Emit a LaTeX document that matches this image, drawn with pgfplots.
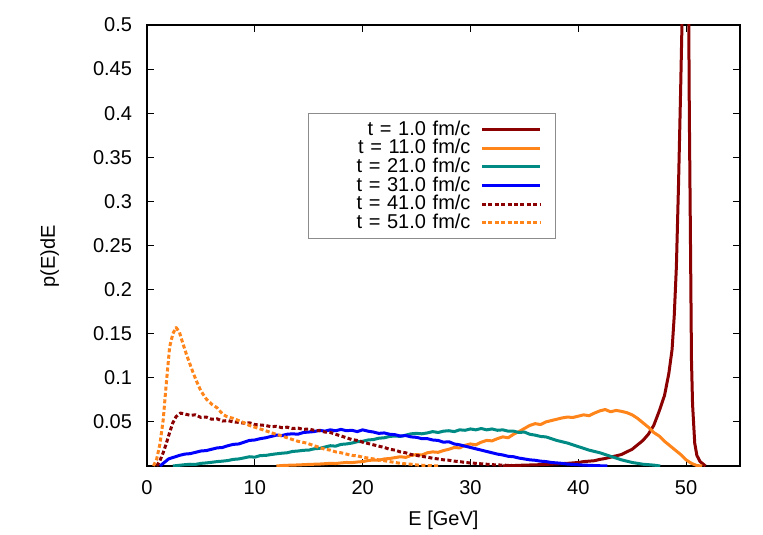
\documentclass[border=0pt]{standalone}
\usepackage{fontspec}
\setmainfont{Liberation Sans}
\usepackage{pgfplots}
\pgfplotsset{compat=1.18}
\definecolor{dred}{HTML}{8B0000}
\definecolor{orng}{HTML}{FF8419}
\definecolor{teal}{HTML}{008A84}
\definecolor{blu}{HTML}{0000FF}

\begin{document}
\begin{tikzpicture}[font=\fontsize{10}{12}\selectfont]
  \path[use as bounding box] (-73.5pt,-34pt) rectangle (308pt,233pt);
  \begin{axis}[
    at={(0pt,0pt)}, anchor=south west,
    width=296.5pt, height=220.5pt, scale only axis,
    xmin=0, xmax=55, ymin=0, ymax=0.5,
    xtick={0,10,20,30,40,50},
    ytick={0.05,0.1,0.15,0.2,0.25,0.3,0.35,0.4,0.45,0.5},
    yticklabel style={/pgf/number format/fixed,/pgf/number format/precision=2,xshift=-4pt},
    xticklabel style={yshift=-3.5pt},
    /pgf/number format/assume math mode=true,
    tick align=inside, major tick length=3.5pt,
    every tick/.style={black,line width=0.5pt},
    axis line style={line width=0.6pt},
    xlabel={E [GeV]}, ylabel={p(E)dE},
    xlabel style={at={(axis description cs:0.5,-0.1225)},anchor=center},
    ylabel style={at={(axis description cs:-0.164,0.476)},anchor=center},
    legend plot pos=right, legend cell align=right,
    legend style={at={(axis description cs:0.2715,0.800)},anchor=north west,
      draw=black!45, line width=0.5pt, inner xsep=7pt, inner ysep=1.5pt, row sep=-3.4pt,
      font=\fontsize{10}{12}\selectfont,
      nodes={text width=72pt, align=right},
      /tikz/every odd column/.append style={column sep=3pt}},
    legend image code/.code={\draw[#1] (0pt,0pt) -- (29pt,0pt);},
    every axis plot/.append style={line width=1.5pt, line join=round},
  ]
  % t = 1.0
  \addplot[dred] coordinates {
    (33,0) (34,0.0005) (35,0.001) (36,0.0013) (37,0.0018) (38,0.0025) (39,0.003)
    (39.5,0.0035) (40,0.004) (40.5,0.005) (41,0.0055) (41.5,0.006) (42,0.0075)
    (42.5,0.0085) (43,0.010) (43.5,0.0115) (44,0.013) (44.5,0.016) (45,0.019)
    (45.5,0.024) (46,0.029) (46.5,0.036) (47,0.046) (47.5,0.062) (48,0.08)
    (48.4,0.105) (48.7,0.132) (48.9,0.17) (49.1,0.226) (49.3,0.32) (49.5,0.43)
    (49.7,0.55) (49.9,0.85) (50.05,0.9) (50.2,0.6) (50.3,0.40) (50.4,0.264)
    (50.5,0.12) (50.6,0.07) (50.8,0.026) (51,0.012) (51.3,0.005) (51.8,0)};
  % t = 11.0
  \addplot[orng] coordinates {
    (12,0) (12.5,0.0005) (13,0.0008) (13.5,0.001) (14,0.0012) (14.5,0.0015)
    (15,0.0018) (15.5,0.002) (16,0.0022) (16.5,0.0026) (17,0.003) (17.5,0.0028)
    (18,0.0035) (18.5,0.004) (19,0.0038) (19.5,0.0045) (20,0.005) (20.5,0.0062)
    (21,0.0068) (21.5,0.0065) (22,0.008) (22.5,0.0085) (23,0.0095) (23.5,0.0105)
    (24,0.0098) (24.5,0.012) (25,0.013) (25.5,0.0125) (26,0.015) (26.5,0.016)
    (27,0.0155) (27.5,0.0175) (28,0.019) (28.5,0.021) (29,0.0205) (29.5,0.0235)
    (30,0.025) (30.5,0.024) (31,0.027) (31.5,0.029) (32,0.0285) (32.5,0.031)
    (33,0.033) (33.5,0.032) (34,0.036) (34.5,0.039) (35,0.0425) (35.5,0.046)
    (36,0.048) (36.5,0.047) (37,0.050) (37.5,0.0515) (38,0.053) (38.5,0.0545)
    (39,0.0555) (39.5,0.055) (40,0.0565) (40.5,0.058) (41,0.057) (41.5,0.060)
    (42,0.0625) (42.5,0.064) (43,0.0615) (43.5,0.063) (44,0.062) (44.5,0.0605)
    (45,0.058) (45.5,0.054) (46,0.049) (46.5,0.044) (47,0.038) (47.5,0.034)
    (48,0.028) (48.5,0.023) (49,0.018) (49.5,0.013) (50,0.007) (50.5,0.003)
    (51,0.0005) (51.5,0)};
  % t = 21.0
  \addplot[teal] coordinates {
    (2.4,0) (3,0.0008) (3.5,0.0015) (4,0.002) (4.5,0.0018) (5,0.003) (5.5,0.0035)
    (6,0.0042) (6.5,0.005) (7,0.0055) (7.5,0.0062) (8,0.0075) (8.5,0.008)
    (9,0.0092) (9.5,0.0105) (10,0.010) (10.5,0.0118) (11,0.012) (11.5,0.013)
    (12,0.0138) (12.5,0.0145) (13,0.015) (13.5,0.0165) (14,0.017) (14.5,0.0178)
    (15,0.018) (15.5,0.0195) (16,0.020) (16.5,0.0215) (17,0.023) (17.5,0.0225)
    (18,0.0245) (18.5,0.025) (19,0.026) (19.5,0.0275) (20,0.028) (20.5,0.0295)
    (21,0.030) (21.5,0.0315) (22,0.032) (22.5,0.0335) (23,0.034) (23.5,0.0335)
    (24,0.035) (24.5,0.0365) (25,0.037) (25.5,0.0365) (26,0.0375) (26.5,0.039)
    (27,0.038) (27.5,0.0395) (28,0.040) (28.5,0.039) (29,0.041) (29.5,0.0405)
    (30,0.042) (30.5,0.041) (31,0.0425) (31.5,0.041) (32,0.042) (32.5,0.0405)
    (33,0.041) (33.5,0.0395) (34,0.0395) (34.5,0.038) (35,0.0385) (35.5,0.036)
    (36,0.035) (36.5,0.0335) (37,0.033) (37.5,0.031) (38,0.029) (38.5,0.0275)
    (39,0.026) (39.5,0.024) (40,0.022) (40.5,0.020) (41,0.018) (41.5,0.0165)
    (42,0.015) (42.5,0.013) (43,0.011) (43.5,0.009) (44,0.007) (44.5,0.0055)
    (45,0.004) (45.5,0.003) (46,0.002) (46.5,0.0015) (47,0.001) (47.6,0)};
  % t = 31.0
  \addplot[blu] coordinates {
    (1.2,0) (1.6,0.004) (2,0.008) (2.5,0.010) (3,0.012) (3.5,0.0135) (4,0.014)
    (4.5,0.0155) (5,0.017) (5.5,0.0175) (6,0.019) (6.5,0.0205) (7,0.021)
    (7.5,0.023) (8,0.0245) (8.5,0.025) (9,0.027) (9.5,0.029) (10,0.0295)
    (10.5,0.031) (11,0.032) (11.5,0.0335) (12,0.035) (12.5,0.0345) (13,0.036)
    (13.5,0.0365) (14,0.036) (14.5,0.038) (15,0.0385) (15.5,0.039) (16,0.0405)
    (16.5,0.0395) (17,0.041) (17.5,0.040) (18,0.0415) (18.5,0.040) (19,0.0405)
    (19.5,0.039) (20,0.041) (20.5,0.0395) (21,0.0385) (21.5,0.037) (22,0.0375)
    (22.5,0.036) (23,0.0355) (23.5,0.034) (24,0.0345) (24.5,0.033) (25,0.0325)
    (25.5,0.031) (26,0.031) (26.5,0.0295) (27,0.029) (27.5,0.027) (28,0.0275)
    (28.5,0.025) (29,0.024) (29.5,0.0225) (30,0.021) (30.5,0.0195) (31,0.018)
    (31.5,0.0165) (32,0.015) (32.5,0.0135) (33,0.0125) (33.5,0.011) (34,0.0105)
    (34.5,0.009) (35,0.008) (35.5,0.007) (36,0.0065) (36.5,0.0055) (37,0.005)
    (37.5,0.004) (38,0.0035) (38.5,0.003) (39,0.0022) (39.5,0.0018) (40,0.0014)
    (40.5,0.001) (41,0.0008) (41.5,0.0005) (42,0.0003) (42.7,0)};
  % t = 41.0
  \addplot[dred,dash pattern=on 2pt off 1.2pt] coordinates {
    (0.9,0) (1.2,0.006) (1.5,0.015) (1.8,0.026) (2.1,0.038) (2.4,0.049)
    (2.7,0.056) (3.1,0.060) (3.5,0.059) (4,0.0575) (4.5,0.058) (5,0.055)
    (5.5,0.0555) (6,0.053) (6.5,0.0535) (7,0.051) (7.5,0.0515) (8,0.050)
    (8.5,0.0495) (9,0.0485) (9.5,0.049) (10,0.047) (10.5,0.0465) (11,0.046)
    (11.5,0.0445) (12,0.045) (12.5,0.0435) (13,0.044) (13.5,0.0425) (14,0.043)
    (14.5,0.0415) (15,0.042) (15.5,0.0405) (16,0.040) (16.5,0.0385) (17,0.038)
    (17.5,0.036) (18,0.034) (18.5,0.032) (19,0.030) (19.5,0.029) (20,0.027)
    (20.5,0.0255) (21,0.024) (21.5,0.0225) (22,0.021) (22.5,0.019) (23,0.018)
    (23.5,0.016) (24,0.015) (24.5,0.013) (25,0.012) (25.5,0.011) (26,0.010)
    (26.5,0.0088) (27,0.008) (27.5,0.007) (28,0.0065) (28.5,0.0055) (29,0.005)
    (29.5,0.004) (30,0.0035) (30.5,0.003) (31,0.0025) (31.5,0.002) (32,0.0015)
    (33,0.001) (34,0.0005) (35,0)};
  % t = 51.0
  \addplot[orng,dash pattern=on 2pt off 1.2pt] coordinates {
    (0.6,0) (0.9,0.008) (1.2,0.025) (1.5,0.052) (1.8,0.095) (2.1,0.135)
    (2.4,0.150) (2.7,0.157) (3.0,0.152) (3.3,0.140) (3.7,0.125) (4.0,0.115)
    (4.3,0.105) (4.6,0.096) (5.0,0.085) (5.5,0.076) (6.0,0.070) (6.5,0.066)
    (7.0,0.059) (7.4,0.056) (8,0.054) (8.6,0.051) (9,0.049) (9.5,0.046)
    (10,0.044) (10.5,0.042) (11,0.040) (11.7,0.037) (12.5,0.034) (13,0.032)
    (13.5,0.030) (14,0.028) (14.8,0.026) (15.5,0.023) (16,0.021) (16.5,0.019)
    (17,0.018) (17.5,0.016) (18,0.015) (18.5,0.0135) (19,0.012) (19.5,0.0115)
    (20,0.010) (20.5,0.009) (21,0.008) (21.5,0.007) (22,0.006) (22.5,0.005)
    (23,0.004) (23.5,0.003) (24,0.0025) (24.5,0.002) (25,0.0012) (26,0.0005)
    (27,0)};
  \legend{t = 1.0 fm/c, t = 11.0 fm/c, t = 21.0 fm/c, t = 31.0 fm/c, t = 41.0 fm/c, t = 51.0 fm/c}
  \end{axis}
\end{tikzpicture}
\end{document}
